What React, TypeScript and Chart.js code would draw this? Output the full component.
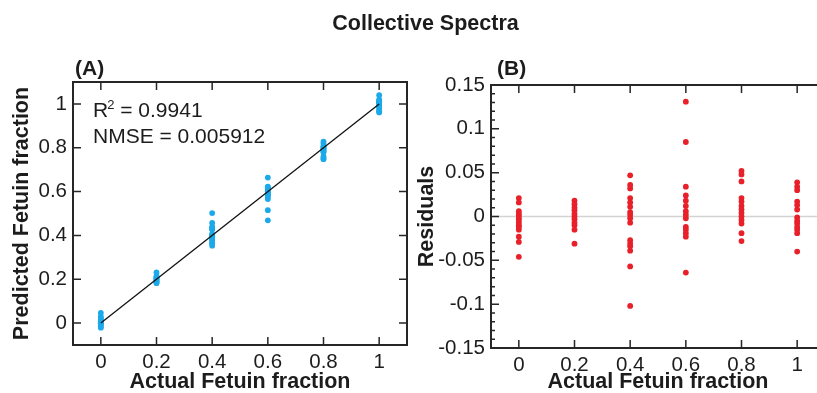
import React, { useEffect, useRef } from 'react';
import { Chart, registerables } from 'chart.js';

Chart.register(...registerables);

const FONT = '"Liberation Sans", Arial, Helvetica, sans-serif';
const TEXT = '#1c1c1c';
const AXIS = '#262626';
const BLUE = '#1ca9e9';
const RED = '#e8202a';

// ---- texts ----
const figureTitle = 'Collective Spectra';
const panelALabel = '(A)';
const panelBLabel = '(B)';
const xAxisTitle = 'Actual Fetuin fraction';
const leftYAxisTitle = 'Predicted Fetuin fraction';
const rightYAxisTitle = 'Residuals';
const r2Value = '0.9941';
const nmseValue = '0.005912';

// ---- data ----
const xLevels = [0, 0.2, 0.4, 0.6, 0.8, 1];

const predictedAt0 = [-0.021, -0.016, -0.006, -0.003, -0.001, 0.002, 0.004, 0.007, 0.01, 0.012, 0.015, 0.023, 0.029, 0.046];
const predictedAt02 = [0.182, 0.186, 0.19, 0.193, 0.197, 0.2, 0.203, 0.207, 0.21, 0.215, 0.231];
const predictedAt04 = [0.353, 0.364, 0.368, 0.379, 0.384, 0.389, 0.395, 0.398, 0.402, 0.407, 0.427, 0.431, 0.434, 0.439, 0.457, 0.502];
const predictedAt06 = [0.469, 0.515, 0.566, 0.576, 0.582, 0.588, 0.594, 0.598, 0.602, 0.612, 0.615, 0.619, 0.623, 0.664];
const predictedAt08 = [0.748, 0.752, 0.76, 0.779, 0.783, 0.788, 0.792, 0.796, 0.8, 0.804, 0.808, 0.819, 0.828];
const predictedAt1 = [0.961, 0.966, 0.97, 0.983, 0.987, 0.992, 1.001, 1.005, 1.008, 1.012, 1.015, 1.019, 1.04];

const residualsAt0 = [0.021, 0.016, 0.006, 0.003, 0.001, -0.002, -0.004, -0.007, -0.01, -0.012, -0.015, -0.023, -0.029, -0.046];
const residualsAt02 = [0.018, 0.014, 0.01, 0.007, 0.003, 0.0, -0.003, -0.007, -0.01, -0.015, -0.031];
const residualsAt04 = [0.047, 0.036, 0.032, 0.021, 0.016, 0.011, 0.005, 0.002, -0.002, -0.007, -0.027, -0.031, -0.034, -0.039, -0.057, -0.102];
const residualsAt06 = [0.131, 0.085, 0.034, 0.024, 0.018, 0.012, 0.006, 0.002, -0.002, -0.012, -0.015, -0.019, -0.023, -0.064];
const residualsAt08 = [0.052, 0.048, 0.04, 0.021, 0.017, 0.012, 0.008, 0.004, 0.0, -0.004, -0.008, -0.019, -0.028];
const residualsAt1 = [0.039, 0.034, 0.03, 0.017, 0.013, 0.008, -0.001, -0.005, -0.008, -0.012, -0.015, -0.019, -0.04];

const fitLineX = [0, 1];
const fitLineY = [0, 1];

// ---- ticks ----
const xTickValues = [0, 0.2, 0.4, 0.6, 0.8, 1];
const leftYTickValues = [0, 0.2, 0.4, 0.6, 0.8, 1];
const rightYTickValues = [-0.15, -0.1, -0.05, 0, 0.05, 0.1, 0.15];
const xRange = [-0.1, 1.1];
const leftYRange = [-0.1, 1.1];
const rightYRange = [-0.15, 0.15];
const rightYMinorStep = 0.01;

const predictedGroups = [predictedAt0, predictedAt02, predictedAt04, predictedAt06, predictedAt08, predictedAt1];
const residualGroups = [residualsAt0, residualsAt02, residualsAt04, residualsAt06, residualsAt08, residualsAt1];

function toPoints(groups: number[][]) {
  const pts: { x: number; y: number }[] = [];
  groups.forEach((g, i) => g.forEach((v) => pts.push({ x: xLevels[i], y: v })));
  return pts;
}

function fmt(v: number) {
  return String(Number(Number(v).toFixed(2)));
}

function minorValues(range: number[], step: number, majors: number[]) {
  const out: number[] = [];
  const n = Math.round((range[1] - range[0]) / step);
  for (let i = 0; i <= n; i++) {
    const v = Number((range[0] + i * step).toFixed(4));
    if (!majors.some((m) => Math.abs(m - v) < 1e-6)) out.push(v);
  }
  return out;
}

type TextItem = { text: string; x: number; y: number; font: string; align?: CanvasTextAlign };

const matlabAxes = {
  id: 'matlabAxes',
  beforeDatasetsDraw(chart: any, _a: any, opts: any) {
    const { ctx, chartArea, scales } = chart;
    if (opts.zeroLine) {
      const py = scales.y.getPixelForValue(0);
      ctx.save();
      ctx.strokeStyle = '#d3d3d3';
      ctx.lineWidth = 1.3;
      ctx.beginPath();
      ctx.moveTo(chartArea.left, py);
      ctx.lineTo(chartArea.right, py);
      ctx.stroke();
      ctx.restore();
    }
  },
  afterDatasetsDraw(chart: any, _a: any, opts: any) {
    const { ctx, chartArea, scales } = chart;
    const { left, right, top, bottom } = chartArea;
    const x = scales.x;
    const y = scales.y;
    const major = 8;
    const minor = 4;
    ctx.save();
    ctx.strokeStyle = AXIS;
    ctx.lineWidth = 1.5;
    ctx.beginPath();
    x.ticks.forEach((t: any) => {
      const p = x.getPixelForValue(t.value);
      ctx.moveTo(p, bottom);
      ctx.lineTo(p, bottom - major);
      ctx.moveTo(p, top);
      ctx.lineTo(p, top + major);
    });
    y.ticks.forEach((t: any) => {
      const p = y.getPixelForValue(t.value);
      ctx.moveTo(left, p);
      ctx.lineTo(left + major, p);
      ctx.moveTo(right, p);
      ctx.lineTo(right - major, p);
    });
    (opts.minorY || []).forEach((v: number) => {
      const p = y.getPixelForValue(v);
      ctx.moveTo(left, p);
      ctx.lineTo(left + minor, p);
      ctx.moveTo(right, p);
      ctx.lineTo(right - minor, p);
    });
    ctx.stroke();
    ctx.lineWidth = 2;
    ctx.strokeRect(left, top, right - left, bottom - top);

    ctx.fillStyle = TEXT;
    ctx.textBaseline = 'alphabetic';
    (opts.texts || []).forEach((t: TextItem) => {
      ctx.font = t.font;
      ctx.textAlign = t.align || 'left';
      ctx.fillText(t.text, t.x, t.y);
    });
    if (opts.r2) {
      const { x: rx, y: ry, value } = opts.r2;
      ctx.textAlign = 'left';
      ctx.font = `21px ${FONT}`;
      ctx.fillText('R', rx, ry);
      let cx = rx + ctx.measureText('R').width - 1;
      ctx.font = `13px ${FONT}`;
      ctx.fillText('2', cx, ry - 8);
      cx += ctx.measureText('2').width;
      ctx.font = `21px ${FONT}`;
      ctx.fillText(' = ' + value, cx, ry);
    }
    ctx.restore();
  },
};

function makeScales(opts: {
  yTicks: number[];
  yRange: number[];
  yTitle: string;
  yWidth: number;
  yTitlePad: number;
  xHeight: number;
}) {
  const tickFont = { family: FONT, size: 20.5, lineHeight: 1.2 };
  const titleFont = { family: FONT, size: 21.5, weight: 'bold' as const, lineHeight: 1 };
  return {
    x: {
      type: 'linear' as const,
      min: xRange[0],
      max: xRange[1],
      grid: { display: false, drawTicks: false },
      border: { display: false },
      afterBuildTicks: (s: any) => {
        s.ticks = xTickValues.map((v) => ({ value: v }));
      },
      afterFit: (s: any) => {
        s.height = opts.xHeight;
      },
      ticks: { color: TEXT, font: tickFont, padding: 5, autoSkip: false, maxRotation: 0, callback: (v: any) => fmt(v) },
      title: { display: true, text: xAxisTitle, color: TEXT, font: titleFont, padding: { top: 0, bottom: 0 } },
    },
    y: {
      type: 'linear' as const,
      min: opts.yRange[0],
      max: opts.yRange[1],
      grid: { display: false, drawTicks: false },
      border: { display: false },
      afterBuildTicks: (s: any) => {
        s.ticks = opts.yTicks.map((v) => ({ value: v }));
      },
      afterFit: (s: any) => {
        s.width = opts.yWidth;
      },
      ticks: { color: TEXT, font: tickFont, padding: 6, autoSkip: false, callback: (v: any) => fmt(v) },
      title: { display: true, text: opts.yTitle, color: TEXT, font: titleFont, padding: { top: opts.yTitlePad, bottom: 0 } },
    },
  };
}

export default function App() {
  const leftRef = useRef<HTMLCanvasElement>(null);
  const rightRef = useRef<HTMLCanvasElement>(null);

  useEffect(() => {
    if (!leftRef.current || !rightRef.current) return;

    const left = new Chart(leftRef.current, {
      type: 'scatter',
      data: {
        datasets: [
          {
            label: 'fit',
            data: fitLineX.map((v, i) => ({ x: v, y: fitLineY[i] })),
            showLine: true,
            borderColor: '#111111',
            borderWidth: 1.3,
            pointRadius: 0,
            fill: false,
          },
          {
            label: 'predicted',
            data: toPoints(predictedGroups),
            backgroundColor: BLUE,
            borderWidth: 0,
            pointRadius: 2.9,
          },
        ],
      },
      options: {
        responsive: false,
        animation: false,
        layout: { padding: { top: 82, left: 0, right: 817 - 407, bottom: 0 } },
        plugins: {
          legend: { display: false },
          tooltip: { enabled: false },
          matlabAxes: {
            texts: [
              { text: figureTitle, x: 425.5, y: 30, font: `bold 21.5px ${FONT}`, align: 'center' },
              { text: panelALabel, x: 75, y: 75, font: `bold 21px ${FONT}` },
              { text: 'NMSE = ' + nmseValue, x: 93, y: 143, font: `21px ${FONT}` },
            ],
            r2: { x: 93, y: 117, value: r2Value },
          },
        } as any,
        scales: makeScales({
          yTicks: leftYTickValues,
          yRange: leftYRange,
          yTitle: leftYAxisTitle,
          yWidth: 73,
          yTitlePad: 11.5,
          xHeight: 48,
        }) as any,
      },
      plugins: [matlabAxes as any],
    });

    const right = new Chart(rightRef.current, {
      type: 'scatter',
      data: {
        datasets: [
          {
            label: 'residuals',
            data: toPoints(residualGroups),
            backgroundColor: RED,
            borderWidth: 0,
            pointRadius: 2.9,
          },
        ],
      },
      options: {
        responsive: false,
        animation: false,
        layout: { padding: { top: 85, left: 0, right: 15, bottom: 0 } },
        plugins: {
          legend: { display: false },
          tooltip: { enabled: false },
          matlabAxes: {
            zeroLine: true,
            minorY: minorValues(rightYRange, rightYMinorStep, rightYTickValues),
            texts: [{ text: panelBLabel, x: 87, y: 75, font: `bold 21px ${FONT}` }],
          },
        } as any,
        scales: makeScales({
          yTicks: rightYTickValues,
          yRange: rightYRange,
          yTitle: rightYAxisTitle,
          yWidth: 81,
          yTitlePad: 6.5,
          xHeight: 45,
        }) as any,
      },
      plugins: [matlabAxes as any],
    });

    return () => {
      left.destroy();
      right.destroy();
    };
  }, []);

  return (
    <div style={{ position: 'absolute', left: 0, top: 0, width: 817, height: 393, overflow: 'hidden', background: '#ffffff' }}>
      <canvas ref={leftRef} width={817} height={393} style={{ position: 'absolute', left: 0, top: 0, width: 817, height: 393 }} />
      <canvas ref={rightRef} width={430} height={393} style={{ position: 'absolute', left: 410, top: 0, width: 430, height: 393 }} />
    </div>
  );
}
